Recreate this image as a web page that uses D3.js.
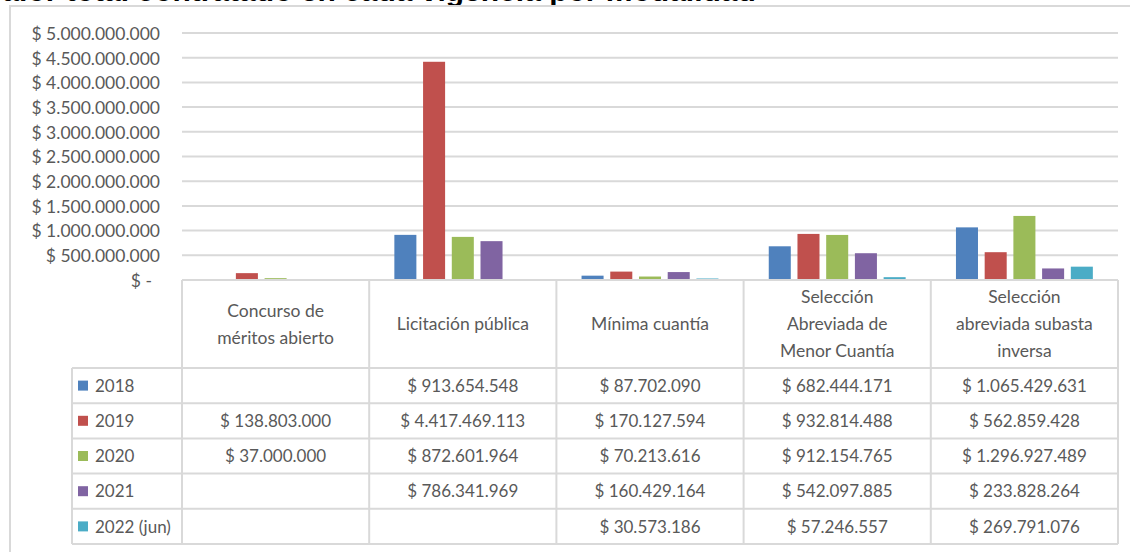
<!DOCTYPE html>
<html><head><meta charset="utf-8">
<script src="https://cdn.jsdelivr.net/npm/d3@7"></script>
<style>body{margin:0;background:#fff}svg{display:block}</style>
</head><body>
<svg id="c" width="1130" height="552"></svg>
<script>
const title = "Valor total contratado en cada vigencia por modalidad";
const categories = ["Concurso de méritos abierto","Licitación pública","Mínima cuantía","Selección Abreviada de Menor Cuantía","Selección abreviada subasta inversa"];
const categoryLines = [["Concurso de","méritos abierto"],["Licitación pública"],["Mínima cuantía"],["Selección","Abreviada de","Menor Cuantía"],["Selección","abreviada subasta","inversa"]];
const seriesNames = ["2018","2019","2020","2021","2022 (jun)"];
const v2018 = [null, 913654548, 87702090, 682444171, 1065429631];
const v2019 = [138803000, 4417469113, 170127594, 932814488, 562859428];
const v2020 = [37000000, 872601964, 70213616, 912154765, 1296927489];
const v2021 = [null, 786341969, 160429164, 542097885, 233828264];
const v2022 = [null, null, 30573186, 57246557, 269791076];
const seriesValues = [v2018, v2019, v2020, v2021, v2022];
const colors = ["#4F81BD","#C0504D","#9BBB59","#8064A2","#4BACC6"];
const yTicks = [0,500000000,1000000000,1500000000,2000000000,2500000000,3000000000,3500000000,4000000000,4500000000,5000000000];

(function(){
const loc = d3.formatLocale({decimal:",", thousands:".", grouping:[3], currency:["$ ",""]});
const fmt = loc.format("$,.0f");

const svg = d3.select("#c");
const FONT = "Lato, 'Open Sans', sans-serif";
const GRID = "#d9d9d9";
const TXT = "#595959";

svg.append("text").attr("x",-16).attr("y",1).attr("font-family","'Liberation Sans', Arial, sans-serif")
  .attr("font-weight","bold").attr("font-size",30).attr("fill","#000").text(title);

svg.append("rect").attr("x",10).attr("y",6).attr("width",1140).attr("height",580)
  .attr("fill","#fff").attr("stroke",GRID).attr("stroke-width",2);

const pLeft = 182, pRight = 1118, pTop = 33, base = 280;
const x0 = d3.scaleBand().domain(categories).range([pLeft,pRight]).paddingInner(0).paddingOuter(0);
const x1 = d3.scaleBand().domain(seriesNames).range([0,x0.bandwidth()]).paddingInner(0.233).paddingOuter(0.876);
const y = d3.scaleLinear().domain([0,5000000000]).range([base,pTop]);

svg.append("g").selectAll("line").data(yTicks.filter(d=>d>0)).join("line")
  .attr("x1",pLeft).attr("x2",pRight).attr("y1",d=>y(d)).attr("y2",d=>y(d))
  .attr("stroke",GRID).attr("stroke-width",2);

const yAxis = d3.axisLeft(y).tickValues(yTicks).tickSize(0).tickPadding(0)
  .tickFormat(d=> d===0 ? "$ -" : fmt(d));
const ga = svg.append("g").attr("transform",`translate(160,0)`).call(yAxis);
ga.select(".domain").remove();
ga.selectAll("text").attr("font-family",FONT).attr("font-size",17.5).attr("fill",TXT)
  .attr("dx",d=>d===0?-8:0).attr("dy","0.36em");

const g = svg.append("g");
categories.forEach((c,ci)=>{
  seriesNames.forEach((s,si)=>{
    const v = seriesValues[si][ci];
    if (v==null) return;
    g.append("rect").attr("x",x0(c)+x1(s)).attr("width",x1.bandwidth())
      .attr("y",y(v)).attr("height",base-y(v)).attr("fill",colors[si]);
  });
});

const rowTop = 368, rowH = 35.2, tableLeft = 72;
const t = svg.append("g");
const nRows = seriesNames.length;
const bottom = rowTop + nRows*rowH;
t.append("line").attr("x1",pLeft).attr("x2",pRight).attr("y1",base).attr("y2",base).attr("stroke",GRID).attr("stroke-width",2);
for (let r=0;r<=nRows;r++){
  const yy = rowTop + r*rowH;
  t.append("line").attr("x1",tableLeft).attr("x2",pRight).attr("y1",yy).attr("y2",yy).attr("stroke",GRID).attr("stroke-width",2);
}
t.append("line").attr("x1",tableLeft).attr("x2",tableLeft).attr("y1",rowTop).attr("y2",bottom).attr("stroke",GRID).attr("stroke-width",2);
categories.forEach(c=>{
  t.append("line").attr("x1",x0(c)).attr("x2",x0(c)).attr("y1",base).attr("y2",bottom).attr("stroke",GRID).attr("stroke-width",2);
});
t.append("line").attr("x1",pRight).attr("x2",pRight).attr("y1",base).attr("y2",bottom).attr("stroke",GRID).attr("stroke-width",2);

categories.forEach((c,ci)=>{
  const lines = categoryLines[ci];
  const cx = x0(c)+x0.bandwidth()/2;
  const cy = (base+rowTop)/2;
  const lh = 27;
  lines.forEach((ln,li)=>{
    t.append("text").attr("x",cx).attr("y",cy + (li-(lines.length-1)/2)*lh).attr("dy","0.36em")
      .attr("text-anchor","middle").attr("font-family",FONT).attr("font-size",17.5).attr("fill",TXT).text(ln);
  });
});

seriesNames.forEach((s,si)=>{
  const cy = rowTop + si*rowH + rowH/2;
  t.append("rect").attr("x",78).attr("y",cy-5).attr("width",10).attr("height",10).attr("fill",colors[si]);
  t.append("text").attr("x",95).attr("y",cy).attr("dy","0.36em").attr("font-family",FONT).attr("font-size",17).attr("fill",TXT).text(s);
  categories.forEach((c,ci)=>{
    const v = seriesValues[si][ci];
    if (v==null) return;
    t.append("text").attr("x",x0(c)+x0.bandwidth()/2).attr("y",cy).attr("dy","0.36em").attr("text-anchor","middle")
      .attr("font-family",FONT).attr("font-size",17).attr("fill",TXT).text(fmt(v));
  });
});
})();
</script>
</body></html>
